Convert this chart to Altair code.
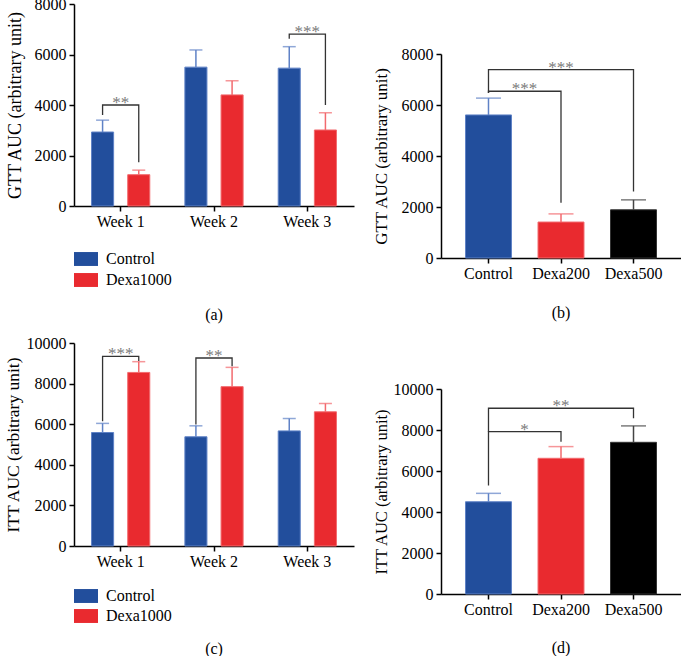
import altair as alt
import pandas as pd

FONT = "Liberation Serif"
BLUE, RED, BLACK = "#224E9C", "#E92A2F", "#000000"
BLUE_L, RED_L, BLACK_L = "#5F82C6", "#F26A6E", "#444444"

weeks = ["Week 1", "Week 2", "Week 3"]
groups = ["Control", "Dexa1000"]
doses = ["Control", "Dexa200", "Dexa500"]

# (a) GTT AUC by week (mean, top of error bar)
gtt_week_control = [2930, 5500, 5460]
gtt_week_control_upper = [3400, 6180, 6310]
gtt_week_dexa = [1240, 4400, 3010]
gtt_week_dexa_upper = [1420, 4960, 3690]

# (b) GTT AUC by dose
gtt_dose = [5610, 1410, 1890]
gtt_dose_upper = [6270, 1730, 2280]

# (c) ITT AUC by week
itt_week_control = [5590, 5380, 5670]
itt_week_control_upper = [6040, 5920, 6280]
itt_week_dexa = [8550, 7850, 6610]
itt_week_dexa_upper = [9080, 8800, 7020]

# (d) ITT AUC by dose
itt_dose = [4500, 6620, 7400]
itt_dose_upper = [4910, 7190, 8200]

# significance brackets: (week, left leg bottom, top, right leg bottom, label)
a_brackets = [("Week 1", 3600, 4000, 1730, "**"), ("Week 3", 6620, 6810, 4000, "***")]
c_brackets = [("Week 1", 6150, 9340, 9110, "***"), ("Week 2", 5990, 9260, 8850, "**")]
# dose brackets: (target, left leg bottom, top, right leg bottom, label)
b_brackets = [("Dexa200", 6470, 6540, 2170, "***"), ("Dexa500", 6470, 7390, 2610, "***")]
d_brackets = [("Dexa200", 5290, 7920, 7430, "*"), ("Dexa500", 7920, 9060, 8570, "**")]

STAR_COLOR = "#7a7a7a"
BRACKET_COLOR = "#333333"
STAR_SIZE = 17


def y_axis(title, maxv, tsize, tpad):
    return alt.Axis(values=list(range(0, maxv + 1, 2000)), title=title, format="d",
                    titleFontSize=tsize, titlePadding=tpad)


X_AXIS = alt.Axis(title=None, labelAngle=0, labelPadding=2)


def week_panel(ctrl, ctrl_up, dexa, dexa_up, brackets, ymax, ytitle, tsize, tpad,
               height, caption, leg_y, leg_pad, cap_off):
    df = pd.DataFrame({
        "week": weeks * 2,
        "group": ["Control"] * 3 + ["Dexa1000"] * 3,
        "mean": ctrl + dexa,
        "upper": ctrl_up + dexa_up,
    })
    xs = alt.Scale(domain=weeks, paddingInner=0, paddingOuter=0)
    ys = alt.Scale(domain=[0, ymax], nice=False)
    yax = y_axis(ytitle, ymax, tsize, tpad)

    def X():
        return alt.X("week:N", scale=xs, axis=X_AXIS)

    def XO():
        return alt.XOffset("group:N", scale=alt.Scale(domain=groups, paddingInner=0.39, paddingOuter=0.485))

    def Y(f):
        return alt.Y(f, scale=ys, axis=yax)

    light = alt.Scale(domain=groups, range=[BLUE_L, RED_L])
    bars = alt.Chart(df).mark_bar(strokeWidth=1).encode(
        x=X(), xOffset=XO(), y=Y("mean:Q"),
        fill=alt.Fill("group:N", scale=alt.Scale(domain=groups, range=[BLUE, RED]),
                      legend=alt.Legend(title=None, orient="none", legendX=0, legendY=leg_y,
                                        direction="vertical", symbolType="M-1,-0.58H1V0.58H-1Z",
                                        symbolSize=576, symbolStrokeWidth=0, symbolOpacity=1,
                                        labelFont=FONT, labelFontSize=16, labelColor="black",
                                        rowPadding=leg_pad, labelOffset=8, padding=0)),
        stroke=alt.Stroke("group:N", scale=light, legend=None),
    )
    err = alt.Chart(df).mark_rule(strokeWidth=1.5).encode(
        x=X(), xOffset=XO(), y=Y("mean:Q"), y2="upper:Q",
        color=alt.Color("group:N", scale=light, legend=None))
    cap = alt.Chart(df).mark_tick(thickness=1.5, size=13).encode(
        x=X(), xOffset=XO(), y=Y("upper:Q"),
        color=alt.Color("group:N", scale=light, legend=None))

    rows, trows = [], []
    for i, (wk, lb, top, rb, lab) in enumerate(brackets):
        pts = [("Control", lb), ("Control", top), ("Dexa1000", top), ("Dexa1000", rb)]
        for j, (g, yv) in enumerate(pts):
            rows.append(dict(bid=i, week=wk, group=g, y=yv, ord=j))
        trows.append(dict(week=wk, y=top, label=lab))
    lines = alt.Chart(pd.DataFrame(rows)).mark_line(color=BRACKET_COLOR, strokeWidth=1.3).encode(
        x=X(), xOffset=XO(), y=Y("y:Q"), detail="bid:N", order="ord:Q")
    stars = alt.Chart(pd.DataFrame(trows)).mark_text(
        font=FONT, fontSize=STAR_SIZE, color=STAR_COLOR, baseline="alphabetic", dy=3).encode(
        x=X(), y=Y("y:Q"), text="label:N")

    return alt.layer(bars, err, cap, lines, stars).properties(
        width=280, height=height,
        title=alt.TitleParams(text=caption, orient="bottom", font=FONT, fontSize=16,
                              fontWeight="normal", color="black", offset=cap_off))


def dose_panel(vals, ups, brackets, ymax, ytitle, tsize, tpad, height, top_gap, caption, cap_off):
    df = pd.DataFrame({"cat": doses, "mean": vals, "upper": ups})
    xs = alt.Scale(domain=doses, paddingInner=0.366, paddingOuter=0.338)
    ys = alt.Scale(domain=[0, ymax], nice=False, range=[height, top_gap])
    yax = y_axis(ytitle, ymax, tsize, tpad)

    def X():
        return alt.X("cat:N", scale=xs, axis=X_AXIS)

    def Y(f):
        return alt.Y(f, scale=ys, axis=yax)

    bars = alt.Chart(df).mark_bar(strokeWidth=1).encode(
        x=X(), y=Y("mean:Q"),
        fill=alt.Fill("cat:N", scale=alt.Scale(domain=doses, range=[BLUE, RED, BLACK]), legend=None),
        stroke=alt.Stroke("cat:N", scale=alt.Scale(domain=doses, range=[BLUE_L, RED_L, "#333333"]), legend=None),
    )
    light = alt.Scale(domain=doses, range=[BLUE_L, RED_L, BLACK_L])
    err = alt.Chart(df).mark_rule(strokeWidth=1.5).encode(
        x=X(), y=Y("mean:Q"), y2="upper:Q", color=alt.Color("cat:N", scale=light, legend=None))
    cap = alt.Chart(df).mark_tick(thickness=1.5, size=25).encode(
        x=X(), y=Y("upper:Q"), color=alt.Color("cat:N", scale=light, legend=None))

    rows, mid_rows, center_rows = [], [], []
    for i, (tgt, lb, top, rb, lab) in enumerate(brackets):
        pts = [("Control", lb), ("Control", top), (tgt, top), (tgt, rb)]
        for j, (c, yv) in enumerate(pts):
            rows.append(dict(bid=i, cat=c, y=yv, ord=j))
        if tgt == "Dexa200":
            mid_rows.append(dict(cat="Control", y=top, label=lab))
        else:
            center_rows.append(dict(cat="Dexa200", y=top, label=lab))
    lines = alt.Chart(pd.DataFrame(rows)).mark_line(color=BRACKET_COLOR, strokeWidth=1.3).encode(
        x=X(), y=Y("y:Q"), detail="bid:N", order="ord:Q")
    s1 = alt.Chart(pd.DataFrame(mid_rows)).mark_text(
        font=FONT, fontSize=STAR_SIZE, color=STAR_COLOR, baseline="alphabetic", dy=3, dx=36).encode(
        x=X(), y=Y("y:Q"), text="label:N")
    s2 = alt.Chart(pd.DataFrame(center_rows)).mark_text(
        font=FONT, fontSize=STAR_SIZE, color=STAR_COLOR, baseline="alphabetic", dy=3).encode(
        x=X(), y=Y("y:Q"), text="label:N")
    return alt.layer(bars, err, cap, lines, s1, s2).properties(
        width=240, height=height,
        title=alt.TitleParams(text=caption, orient="bottom", font=FONT, fontSize=16,
                              fontWeight="normal", color="black", offset=cap_off))


pa = week_panel(gtt_week_control, gtt_week_control_upper, gtt_week_dexa, gtt_week_dexa_upper,
                a_brackets, 8000, "GTT AUC (arbitrary unit)", 18, 10, 202, "(a)", 243, 1, 19)
pb = dose_panel(gtt_dose, gtt_dose_upper, b_brackets, 8000, "GTT AUC (arbitrary unit)", 17, 11,
                254, 50, "(b)", 24)
pc = week_panel(itt_week_control, itt_week_control_upper, itt_week_dexa, itt_week_dexa_upper,
                c_brackets, 10000, "ITT AUC (arbitrary unit)", 17.5, 4, 203, "(c)", 241, 0, 17)
pd_ = dose_panel(itt_dose, itt_dose_upper, d_brackets, 10000, "ITT AUC (arbitrary unit)", 16.5, 4,
                 251, 46, "(d)", 23)

chart = alt.concat(pa, pb, pc, pd_, columns=2, spacing={"row": 85, "column": 87}, bounds="flush").resolve_scale(
    fill="independent", stroke="independent", color="independent"
).resolve_legend(fill="independent", stroke="independent", color="independent").properties(
    padding={"top": -4, "left": 4, "right": 0, "bottom": 2}
).configure(font=FONT).configure_view(stroke=None).configure_axis(
    domainColor="black", domainWidth=1.5, tickColor="black", tickWidth=1.5, tickSize=5,
    labelFont=FONT, labelFontSize=16, labelColor="black", labelPadding=3,
    titleFont=FONT, titleFontWeight="normal", titleColor="black", grid=False,
)

chart.save("out.html", embed_options={"renderer": "svg", "actions": False})
